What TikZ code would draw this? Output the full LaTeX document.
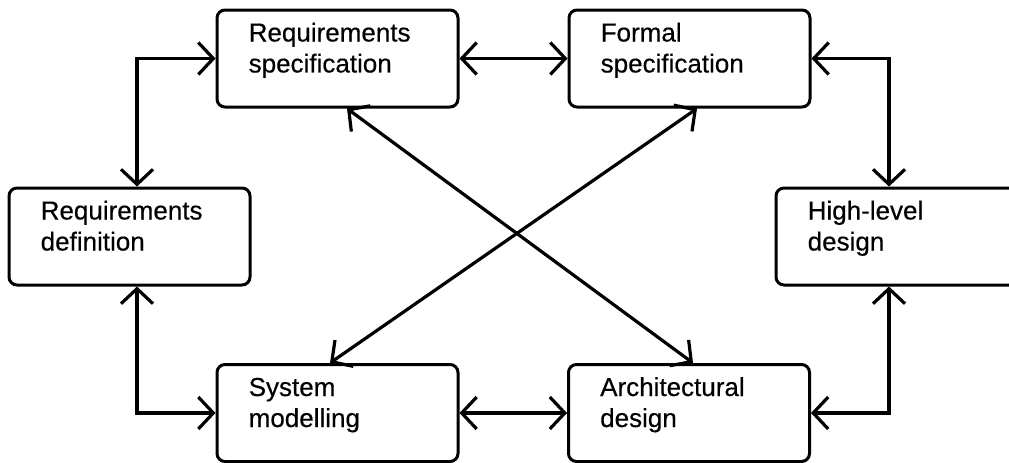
\documentclass[tikz,border=0pt]{standalone}
\usepackage{fontspec}
\setmainfont{Liberation Sans}[FakeBold=0.4]
\usetikzlibrary{arrows.meta}
\begin{document}
\begin{tikzpicture}[x=1pt,y=-1pt,
  box/.style={draw, line width=3pt, rounded corners=8pt, minimum width=241pt, minimum height=97pt, inner sep=0pt},
  lbl/.style={anchor=base west, inner sep=0pt, font=\fontsize{26}{31}\selectfont},
  barb/.tip={Straight Barb[length=15pt,width=32pt]},
  conn/.style={line width=3.2pt, barb-barb}]
\useasboundingbox (0,0) rectangle (1009,463);
\clip (0,0) rectangle (1009,463);
% boxes
\node[box] (rs) at (337.5,58.5) {};
\node[box] (fs) at (689.5,58.5) {};
\node[box] (rd) at (129.5,236.5) {};
\node[box] (hl) at (896.5,236.5) {};
\node[box] (sm) at (337.5,413) {};
\node[box] (ad) at (689,413) {};
% labels
\node[lbl] (rs-l) at ([xshift=33pt,yshift=-33pt]rs.north west) {\begin{tabular}[t]{@{}l@{}}Requirements\\specification\end{tabular}};
\node[lbl] (fs-l) at ([xshift=33pt,yshift=-33pt]fs.north west) {\begin{tabular}[t]{@{}l@{}}Formal\\specification\end{tabular}};
\node[lbl] (rd-l) at ([xshift=33pt,yshift=-33pt]rd.north west) {\begin{tabular}[t]{@{}l@{}}Requirements\\definition\end{tabular}};
\node[lbl] (hl-l) at ([xshift=33pt,yshift=-33pt]hl.north west) {\begin{tabular}[t]{@{}l@{}}High-level\\design\end{tabular}};
\node[lbl] (sm-l) at ([xshift=33pt,yshift=-33pt]sm.north west) {\begin{tabular}[t]{@{}l@{}}System\\modelling\end{tabular}};
\node[lbl] (ad-l) at ([xshift=33pt,yshift=-33pt]ad.north west) {\begin{tabular}[t]{@{}l@{}}Architectural\\design\end{tabular}};
% connectors
\draw[conn] ([xshift=7.5pt]rd.north) |- (rs.west);
\draw[conn] ([xshift=7.5pt]rd.south) |- (sm.west);
\draw[conn] (rs.east) -- (fs.west);
\draw[conn] (sm.east) -- (ad.west);
\draw[conn] (fs.east) -| ([xshift=-7.5pt]hl.north);
\draw[conn] ([xshift=-7.5pt]hl.south) |- (ad.east);
\draw[conn] ([xshift=9.5pt]rs.south) -- ([xshift=4pt]ad.north);
\draw[conn] ([xshift=7.5pt]fs.south) -- ([xshift=-7.5pt]sm.north);
\end{tikzpicture}
\end{document}
